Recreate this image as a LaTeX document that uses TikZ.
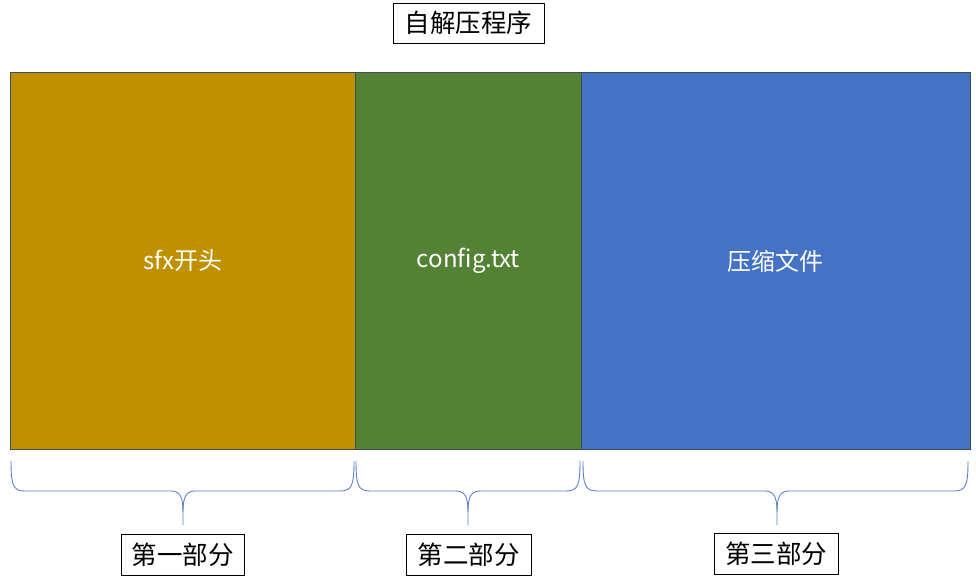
\documentclass[tikz,border=0pt]{standalone}
\usepackage{fontspec}
\setmainfont{Noto Sans CJK SC}
\definecolor{gold}{HTML}{BF9000}
\definecolor{leaf}{HTML}{548235}
\definecolor{sky}{HTML}{4472C4}
\definecolor{edge}{HTML}{3E4C5A}
\definecolor{bracec}{HTML}{5F80C4}
\begin{document}
\begin{tikzpicture}[x=1pt,y=-1pt,
  part/.style={draw=edge,line width=0.8pt,anchor=north west,inner sep=0pt,text=white,font=\fontsize{24}{28}\selectfont},
  tag/.style={draw=black,line width=0.8pt,fill=white,inner sep=0pt,font=\fontsize{25.5}{30}\selectfont},
  bracepath/.style={draw=bracec,line width=0.9pt}]
\useasboundingbox (0,0) rectangle (976,580);
\node[part,fill=gold,minimum width=345pt,minimum height=377pt] (sfx) at (10,72) {sfx开头};
\node[part,fill=leaf,minimum width=226pt,minimum height=377pt] (cfg) at (355,72) {config.txt};
\node[part,fill=sky,minimum width=389pt,minimum height=377pt] (zip) at (581,72) {压缩文件};
\node[tag,minimum width=151pt,minimum height=40pt] (title) at (468.5,23) {自解压程序};
\node[tag,minimum width=123pt,minimum height=41pt] (p1) at (182.5,554.5) {第一部分};
\node[tag,minimum width=125pt,minimum height=41pt] (p2) at (468.5,554.5) {第二部分};
\node[tag,minimum width=124pt,minimum height=41pt] (p3) at (776,553.5) {第三部分};
\foreach \L/\T/\R/\n in {11/183/354/1, 356/468/580/2, 583/777/968/3}{
  \coordinate (bl\n) at (\L,461);
  \coordinate (bt\n) at (\T,525);
  \coordinate (br\n) at (\R,461);
  \draw[bracepath] (bl\n) .. controls (\L,485) and (\L+2,491) .. (\L+14,491)
    -- (\T-12,491) .. controls (\T-3,491) and (\T,497) .. (\T,512) -- (bt\n);
  \draw[bracepath] (br\n) .. controls (\R,485) and (\R-2,491) .. (\R-14,491)
    -- (\T+12,491) .. controls (\T+3,491) and (\T,497) .. (\T,512);
}
\end{tikzpicture}
\end{document}
